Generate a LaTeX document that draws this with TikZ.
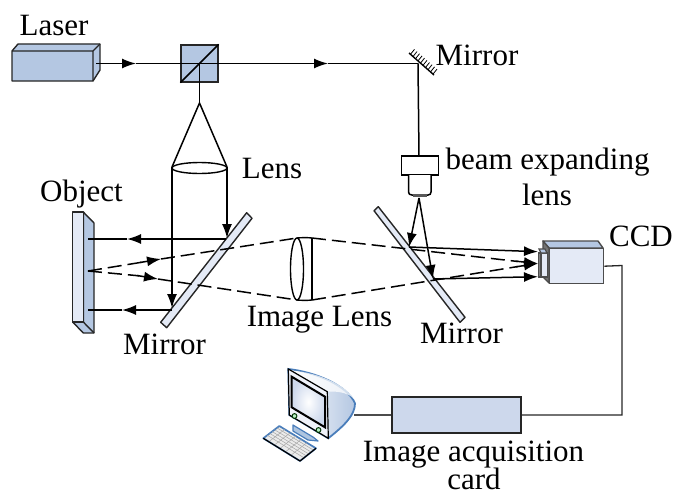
\documentclass[tikz,border=0pt]{standalone}
\usepackage{fontspec}
\setmainfont{Liberation Serif}
\usetikzlibrary{arrows.meta,calc,shapes.geometric}
\definecolor{bluedark}{HTML}{B4C7E2}
\definecolor{bluelight}{HTML}{E4EAF6}
\definecolor{bluemid}{HTML}{CDD8EC}
\definecolor{pcblue}{HTML}{4A7EBB}
\tikzset{
  lab/.style={anchor=base,inner sep=0pt,font=\fontsize{31}{33}\selectfont},
  beam/.style={line width=1.5pt,black},
  tipped/.style={beam,-{Latex[length=14pt,width=10pt]}},
  dash beam/.style={beam,dash pattern=on 14pt off 6pt},
  part/.style={draw=black!85,line width=1.4pt,line join=round},
  wire/.style={line width=1.3pt,black!85},
}
\begin{document}
\begin{tikzpicture}[x=1pt,y=-1pt]
\useasboundingbox (0,0) rectangle (674,495);
% Laser
\draw[part,fill=bluedark] (12,51) -- (18,44) -- (100,44) -- (100,70) -- (93,81) -- (12,81) -- cycle;
\draw[part] (12,51) -- (93,51) -- (100,44) (93,51) -- (93,81);
\coordinate (laserout) at (96,63.5);
% splitter
\node[draw=black!85,fill=bluedark,line width=1.4pt,minimum size=37pt,inner sep=0pt] (cube) at (199.5,63.5) {};
\draw[beam] (cube.south west) -- (cube.north east);
% fold mirror
\coordinate (fold) at (418,63.5);
\draw[line width=1.4pt] (409,53) coordinate (fa) -- (434,75) coordinate (fb);
\foreach \t in {0.06,0.16,...,1.0}{
  \draw[line width=0.8pt] ($(fa)!\t!(fb)$) -- ++(4,-5);
}
% beam
\coordinate (a1) at (136,63.5);
\coordinate (a2) at (328,63.5);
\draw[tipped] (laserout) -- (a1);
\draw[beam] (a1) -- (cube.center);
\draw[tipped] (cube.center) -- (a2);
\draw[beam] (a2) -- (fold);
% upper lens
\coordinate (apex) at (199.5,103);
\coordinate (lensL) at (172,167);
\coordinate (lensR) at (227,167);
\draw[beam] (cube.center) -- (apex);
\draw[beam] (lensL) -- (apex) -- (lensR);
\node[draw=black,line width=1.4pt,ellipse,minimum width=55pt,minimum height=11pt,inner sep=0pt] (lensE) at (199.5,168) {};
% left mirror
\draw[part,fill=bluelight] (246.7,212.7) -- (252,218.3) -- (166.7,327.7) -- (160.7,322.3) -- cycle;
% right mirror
\draw[part,fill=bluelight] (378.3,206.7) -- (374,210.7) -- (460,322.3) -- (465,317.3) -- cycle;
% object
\draw[part,fill=bluedark] (83.3,212) -- (94,223) -- (94,333) -- (83.3,333) -- (72.7,322) -- (83.3,322) -- cycle;
\draw[part,fill=bluelight] (72.7,212) rectangle (83.3,322);
\draw[part] (83.3,322) -- (94,333);
\coordinate (objT) at (88,239);
\coordinate (objM) at (88,271);
\coordinate (objB) at (88,310);
% lens rays
\coordinate (mT) at (227,238);
\coordinate (mB) at (172,308);
\coordinate (aT) at (127,239);
\coordinate (aB) at (122,310);
\draw[tipped] (lensR) -- (mT);
\draw[tipped] (lensL) -- (mB);
\draw[tipped] (226,239) -- (aT);
\draw[beam] (aT) -- (objT);
\draw[tipped] (172,310) -- (aB);
\draw[beam] (aB) -- (objB);
% image lens
\node[draw=black,line width=1.4pt,ellipse,minimum width=13pt,minimum height=62pt,inner sep=0pt] (imglens) at (297,269) {};
\coordinate (ilT) at (312,238);
\coordinate (ilB) at (312,300);
\draw[line width=1.4pt] (ilT) -- (ilB);
\draw[line width=1.4pt] (297,238) .. controls (302,237.5) and (308,237.5) .. (ilT);
\draw[line width=1.4pt] (297,300) .. controls (302,300.5) and (308,300.5) .. (ilB);
% dashed
\coordinate (daU) at (161,259);
\coordinate (daL) at (158,279);
\draw[dash beam] (objM) -- (142,262.2);
\draw[dash beam] (objM) -- (139,275.8);
\draw[tipped] (140,262.5) -- (daU);
\draw[tipped] (137,275.5) -- (daL);
\draw[dash beam] (daU) -- (297,238);
\draw[dash beam] (daL) -- (297,300);
\coordinate (ccdtip) at (538,263.5);
\draw[dash beam] (ilT) -- (518,261.5);
\draw[dash beam] (ilB) -- (518,266.5);
\draw[tipped] (516,261.2) -- (ccdtip);
\draw[tipped] (516,266.8) -- (ccdtip);
% expander
\draw[beam] (fold) -- (419,156);
\node[draw=black,line width=1.5pt,fill=white,minimum width=37pt,minimum height=19pt,inner sep=0pt] (exp) at (420,165.5) {};
\draw[line width=1.5pt,fill=white] (408.5,175) -- (408.5,192) .. controls (408.5,194) and (410,195) .. (412,195) -- (428,195) .. controls (430,195) and (431,194) .. (431,192) -- (431,175);
\fill[black!65] (413,194) rectangle (427,197);
\coordinate (exapex) at (419,198);
\coordinate (mrU) at (409,247);
\coordinate (mrL) at (433,279);
\draw[tipped] (exapex) -- (mrU);
\draw[tipped] (exapex) -- (mrL);
\coordinate (ccdU) at (538,251.7);
\coordinate (ccdL) at (538,276.7);
\draw[tipped] (mrU) -- (ccdU);
\draw[tipped] (mrL) -- (ccdL);
% CCD
\draw[draw=black!70,line width=1.4pt,line join=round,fill=bluedark] (543,241) -- (598,241) -- (603,248) -- (549,248) -- cycle;
\draw[draw=black!70,line width=1.4pt,line join=round,fill=black!55] (543,241) -- (549,248) -- (549,283) -- (543,277) -- cycle;
\node[draw=black!70,line width=1.4pt,fill=bluelight,minimum width=54pt,minimum height=35pt,inner sep=0pt,anchor=north west] (ccd) at (549,248) {};
\draw[draw=black!70,line width=1.2pt,fill=black!50] (538.5,253) rectangle (541,277);
\draw[draw=black!70,line width=1.2pt,fill=bluelight] (541,253) rectangle (547.5,277);
\draw[draw=black!70,line width=1.2pt,fill=bluedark] (539,249) -- (545,249) -- (547,253) -- (541,253) -- cycle;
% card
\node[draw=black!85,line width=1.4pt,fill=bluemid,minimum width=129pt,minimum height=36pt,inner sep=0pt] (card) at (456.5,415) {};
\draw[wire] (ccd.east) -- (622,265.5) -- (622,415) -- (card.east);
% computer
\coordinate (pc) at (354,415);
\draw[wire,black!70] (card.west) -- (pc);
\fill[pcblue!45,draw=pcblue,line width=1.2pt,line join=round] (293,425) -- (313,437) -- (318,441) -- (308,440) -- (293,431) -- cycle;
\path[draw=pcblue,line width=1.8pt,line join=round,left color=white,right color=bluedark]
  (288.3,369) .. controls (315,372) and (347,385) .. (355,403.3)
  .. controls (355,415) and (345,425) .. (328.3,438.3) -- (289.3,415) -- cycle;
\path[fill=white,opacity=.75] (327.3,391.7) .. controls (335,391) and (348,392) .. (354,399) .. controls (345,385) and (320,373) .. (292,370.5) -- cycle;
\draw[black,line width=1.2pt,fill=bluelight!60] (288.3,369) -- (327.3,391.7) -- (328.3,438.3) -- (289.3,415) -- cycle;
\shade[inner color=white,outer color=bluemid,draw=black,line width=2pt] (291.7,376.7) -- (325,396.7) -- (325,427.3) -- (291.7,407.3) -- cycle;
\filldraw[fill=green!20!bluelight,draw=black!80!green,line width=1pt] (294.5,416) circle (2.4pt);
\filldraw[fill=green!20!bluelight,draw=black!80!green,line width=1pt] (318.5,430) circle (2.4pt);
% keyboard
\coordinate (k1) at (279.3,426);
\coordinate (k2) at (316,448.3);
\coordinate (k3) at (300,461);
\coordinate (k4) at (263.3,438.3);
\draw[draw=pcblue,line width=1.7pt,line join=round,fill=black!8] (k1) -- (k2) -- (k3) -- (k4) -- cycle;
\foreach \t in {0.15,0.3,...,0.9}{
  \draw[black!35,line width=0.5pt] ($(k1)!\t!(k2)$) -- ($(k4)!\t!(k3)$);
  \draw[black!35,line width=0.5pt] ($(k1)!\t!(k4)$) -- ($(k2)!\t!(k3)$);
}
\draw[black,line width=1.2pt] (k4) -- (k3) -- (k2);
% labels
\node[lab] (tLaser) at (54,36) {Laser};
\node[lab] (tMirror1) at (477,65) {Mirror};
\node[lab] (tLens) at (272,178) {Lens};
\node[lab] (tObject) at (81.5,201) {Object};
\node[lab] (tBeam) at (547.5,169) {beam expanding};
\node[lab] (tLens2) at (547,205) {lens};
\node[lab] (tCCD) at (641,246) {CCD};
\node[lab] (tMirror2) at (164.5,354) {Mirror};
\node[lab] (tImg) at (319.5,326) {Image Lens};
\node[lab] (tMirror3) at (461.5,343) {Mirror};
\node[lab] (tAcq) at (473.5,461) {Image acquisition};
\node[lab] (tCard) at (474,489) {card};
\end{tikzpicture}
\end{document}
